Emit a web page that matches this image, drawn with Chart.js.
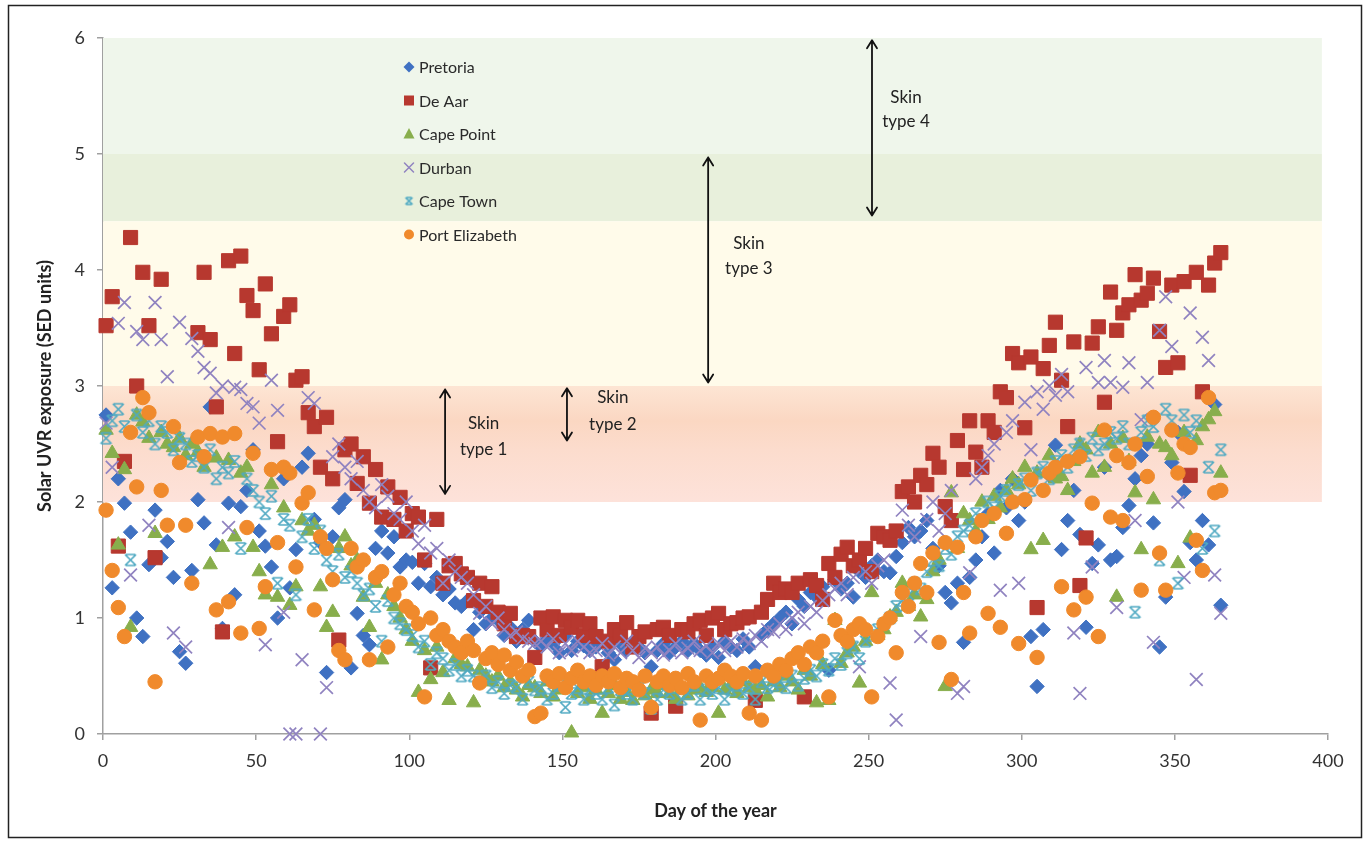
<!DOCTYPE html>
<html><head><meta charset="utf-8">
<script src="https://cdn.jsdelivr.net/npm/chart.js@4.4.1/dist/chart.umd.min.js"></script>
<style>html,body{margin:0;padding:0;background:#fff;}canvas{display:block}</style>
</head><body>
<canvas id="c" width="1370" height="843"></canvas>
<script>
const days = [1,3,5,7,9,11,13,15,17,19,21,23,25,27,29,31,33,35,37,39,41,43,45,47,49,51,53,55,57,59,61,63,65,67,69,71,73,75,77,79,81,83,85,87,89,91,93,95,97,99,101,103,105,107,109,111,113,115,117,119,121,123,125,127,129,131,133,135,137,139,141,143,145,147,149,151,153,155,157,159,161,163,165,167,169,171,173,175,177,179,181,183,185,187,189,191,193,195,197,199,201,203,205,207,209,211,213,215,217,219,221,223,225,227,229,231,233,235,237,239,241,243,245,247,249,251,253,255,257,259,261,263,265,267,269,271,273,275,277,279,281,283,285,287,289,291,293,295,297,299,301,303,305,307,309,311,313,315,317,319,321,323,325,327,329,331,333,335,337,339,341,343,345,347,349,351,353,355,357,359,361,363,365];

const pretoria = [
2.75,1.26,2.2,1.99,1.74,1.0,0.84,1.46,1.93,1.52,
1.66,1.35,0.71,0.61,1.41,2.02,1.82,2.82,1.63,0.91,
1.99,1.2,1.96,2.1,2.45,1.75,1.62,1.44,1.0,2.2,
1.26,1.59,2.3,2.42,1.85,1.65,0.53,1.7,1.95,2.02,
0.57,1.04,0.85,0.77,1.6,1.75,1.56,1.7,1.44,1.5,
1.48,1.3,1.47,1.27,1.35,1.2,1.25,1.13,1.1,1.15,
0.9,1.05,0.95,1.0,0.98,0.85,0.92,0.8,0.9,0.98,
0.8,0.75,0.82,0.78,0.7,0.85,0.72,0.8,0.76,0.72,
0.75,0.8,0.7,0.64,0.78,0.72,0.8,0.75,0.7,0.58,
0.72,0.78,0.7,0.75,0.8,0.72,0.78,0.72,0.68,0.75,
0.66,0.8,0.75,0.72,0.82,0.75,0.58,0.85,0.9,0.95,
1.0,1.05,0.95,1.16,1.1,1.22,1.18,1.27,0.55,1.33,
1.25,1.3,1.18,1.4,1.35,1.45,1.5,1.4,1.39,1.53,
1.65,1.78,1.7,1.75,1.84,1.6,1.45,1.22,1.13,1.3,
0.79,1.35,1.5,1.7,1.9,1.56,2.1,1.95,2.2,1.84,
2.0,0.84,0.41,0.9,2.23,2.49,1.59,1.84,2.1,1.72,
0.92,1.47,1.63,2.3,1.5,1.53,1.78,1.97,2.2,2.4,
2.5,1.82,0.75,1.18,2.34,2.6,2.09,1.65,1.5,1.84,
1.63,2.84,1.11];

const deAar = [
3.52,3.77,1.62,2.35,4.28,3.0,3.98,3.52,1.52,3.92,
null,null,null,null,null,3.46,3.98,3.4,2.82,0.88,
4.08,3.28,4.12,3.78,3.65,3.14,3.88,3.45,2.52,3.6,
3.7,3.05,3.08,2.77,2.65,2.3,2.73,2.2,0.81,2.45,
2.5,2.16,2.39,1.99,2.28,1.87,2.13,1.85,2.04,1.75,
1.9,1.87,1.5,0.57,1.85,1.3,1.45,1.47,1.38,1.35,
1.15,1.3,1.1,1.27,1.05,0.95,1.04,0.84,0.85,0.84,
0.66,1.0,0.9,1.01,0.85,0.98,0.92,0.98,0.85,0.95,
0.84,0.58,0.8,0.9,0.85,0.96,0.75,0.84,0.88,0.18,
0.9,0.92,0.85,0.24,0.9,0.88,0.95,0.98,0.85,1.0,
1.04,0.9,0.95,0.96,1.0,1.01,0.29,1.05,1.16,1.3,
1.22,1.25,1.22,1.3,0.32,1.33,1.28,1.16,1.47,1.35,
1.55,1.61,1.45,1.5,1.6,1.4,1.73,1.7,1.67,1.75,
2.09,2.13,2.0,2.23,2.15,2.42,2.3,1.96,1.84,2.53,
2.28,2.7,2.43,2.3,2.7,2.6,2.95,2.9,3.28,3.2,
2.64,3.25,1.09,3.15,3.35,3.55,3.05,2.65,3.38,1.28,
1.69,3.37,3.51,2.86,3.81,3.48,3.63,3.7,3.96,3.74,
3.8,3.93,3.47,3.16,3.87,3.2,3.9,2.23,3.98,2.95,
3.87,4.06,4.15];

const capePoint = [
2.62,2.42,1.63,2.28,0.92,2.75,2.69,2.55,1.73,2.6,
2.5,2.47,2.55,2.4,2.5,2.43,2.3,1.46,2.38,1.61,
2.36,1.7,2.25,2.3,1.61,1.4,1.2,2.15,1.18,1.95,
1.11,1.27,1.84,1.75,1.8,1.27,0.92,1.05,1.6,1.7,
1.45,1.5,1.18,0.92,1.3,0.64,1.2,1.1,1.0,0.9,
0.8,0.36,0.72,0.47,0.75,0.53,0.29,0.65,0.6,0.58,
0.27,0.55,0.5,0.45,0.5,0.4,0.45,0.38,0.32,0.42,
0.4,0.35,0.45,0.32,0.38,0.42,0.01,0.35,0.4,0.3,
0.38,0.18,0.35,0.42,0.3,0.36,0.29,0.4,0.33,0.38,
0.35,0.42,0.35,0.3,0.4,0.33,0.38,0.4,0.36,0.4,
0.18,0.38,0.42,0.35,0.45,0.4,0.38,0.42,0.32,0.45,
0.4,0.5,0.45,0.38,0.55,0.5,0.27,0.6,0.29,0.98,
0.61,0.7,0.75,0.44,0.8,1.22,0.85,0.9,1.01,1.05,
1.3,1.1,1.2,1.01,1.16,1.4,1.5,0.41,2.08,1.6,
1.9,1.84,1.75,2.0,1.85,2.05,1.95,2.1,2.2,2.15,
2.3,1.59,2.25,1.67,2.4,2.2,2.22,2.1,2.35,2.5,
2.45,2.25,2.6,2.3,2.5,1.18,2.55,2.35,2.08,1.59,
2.56,2.02,2.5,2.47,2.4,1.47,2.6,1.69,2.53,2.65,
2.71,2.78,2.25];

const durban = [
2.68,2.3,3.54,3.72,1.37,3.47,3.4,1.8,3.72,3.4,
3.08,0.87,3.55,0.75,3.41,3.3,3.16,3.11,2.94,3.0,
1.78,2.99,2.97,2.85,2.82,2.68,0.77,3.05,2.79,1.05,
0,0,0.64,2.9,2.85,0,0.4,2.39,2.5,2.3,
2.2,2.35,2.1,2.0,1.95,2.15,2.05,1.9,1.85,2.0,
1.75,1.64,1.8,1.56,1.6,1.3,1.5,1.4,1.35,1.3,
1.2,1.04,1.1,0.95,1.0,0.9,0.85,0.88,0.82,0.8,
0.78,0.8,0.75,0.82,0.7,0.78,0.72,0.8,0.75,0.7,
0.72,0.78,0.68,0.75,0.7,0.8,0.72,0.66,0.74,0.7,
0.75,0.68,0.72,0.78,0.7,0.74,0.8,0.72,0.76,0.7,
0.78,0.72,0.8,0.75,0.82,0.78,0.85,0.8,0.9,0.88,
0.95,0.9,1.0,1.05,0.95,1.1,1.05,1.15,1.2,1.25,
1.3,1.2,1.35,0.58,1.4,1.3,1.45,1.5,0.44,0.12,
1.93,1.8,1.7,0.84,1.85,2.0,1.75,1.9,2.1,0.35,
0.41,1.39,2.2,2.3,2.4,2.5,1.24,2.6,2.7,1.3,
2.86,2.45,2.95,2.8,3.0,2.92,3.1,2.95,0.87,0.35,
3.16,1.44,3.03,3.22,3.03,1.09,2.99,3.2,1.84,2.71,
3.03,0.79,3.48,3.77,3.34,2.0,1.35,3.63,0.47,3.42,
3.22,1.37,1.04];

const capeTown = [
2.55,2.7,2.8,2.65,1.5,2.75,2.6,2.7,2.5,2.65,
2.6,2.45,2.55,2.5,2.35,2.4,2.3,2.45,2.2,2.3,
2.25,2.35,1.6,2.2,2.1,2.0,1.9,2.05,1.3,1.85,
1.8,1.2,1.7,1.85,1.6,1.75,1.5,1.4,1.55,1.35,
1.4,1.3,1.2,1.25,1.1,0.8,1.15,1.0,0.95,0.9,
0.85,0.75,0.8,0.6,0.7,0.65,0.55,0.6,0.5,0.55,
0.5,0.45,0.5,0.4,0.45,0.35,0.42,0.4,0.3,0.45,
0.38,0.4,0.3,0.35,0.42,0.23,0.35,0.4,0.3,0.38,
0.35,0.3,0.4,0.25,0.38,0.35,0.3,0.4,0.35,0.22,
0.3,0.38,0.35,0.4,0.3,0.35,0.42,0.3,0.38,0.35,
0.4,0.3,0.38,0.42,0.35,0.4,0.3,0.45,0.4,0.42,
0.45,0.4,0.5,0.42,0.48,0.55,0.5,0.6,0.55,0.65,
0.6,0.7,0.75,0.65,0.8,0.85,0.9,0.95,1.0,1.1,
1.15,1.2,1.3,1.25,1.4,1.5,1.45,1.6,1.55,1.7,
1.75,1.8,1.9,1.85,2.0,1.95,2.05,2.1,2.0,2.15,
2.2,2.1,2.25,2.3,2.2,2.35,2.4,2.3,2.45,2.5,
2.4,2.55,2.45,2.5,2.6,2.55,2.65,2.5,1.05,2.6,
2.7,2.65,1.5,2.8,2.7,1.3,2.75,2.6,2.7,1.6,
2.3,1.75,2.45];

const portElizabeth = [
1.93,1.41,1.09,0.84,2.6,2.13,2.9,2.77,0.45,2.1,
1.8,2.65,2.34,1.8,1.3,2.56,2.39,2.59,1.07,2.56,
1.14,2.59,0.87,1.78,2.42,0.91,1.27,2.28,1.65,2.3,
2.25,1.44,1.99,2.08,1.07,1.7,1.6,1.33,0.72,0.64,
1.6,1.44,1.5,0.64,1.35,1.4,0.75,1.2,1.3,1.1,
1.05,0.95,0.32,1.0,0.85,0.9,0.8,0.75,0.7,0.8,
0.72,0.44,0.65,0.7,0.6,0.68,0.55,0.62,0.5,0.55,
0.15,0.18,0.5,0.45,0.52,0.4,0.48,0.55,0.45,0.5,
0.42,0.5,0.45,0.52,0.4,0.48,0.45,0.38,0.5,0.23,
0.45,0.5,0.42,0.48,0.4,0.52,0.45,0.12,0.5,0.45,
0.48,0.55,0.5,0.45,0.52,0.18,0.5,0.12,0.55,0.5,
0.6,0.55,0.65,0.7,0.6,0.75,0.7,0.8,0.32,0.98,
0.85,0.8,0.9,0.95,0.9,0.32,0.84,0.95,1.0,0.7,
1.22,1.1,1.3,1.47,1.22,1.56,0.79,1.65,0.47,1.61,
1.22,0.87,1.7,1.84,1.04,1.9,0.92,1.73,2.0,0.78,
2.02,2.19,0.66,2.1,2.25,2.3,1.27,2.35,1.07,2.39,
1.18,1.99,0.84,2.62,1.87,2.4,1.84,2.34,2.5,1.24,
2.22,2.73,1.56,1.24,2.62,2.25,2.5,2.47,1.67,1.41,
2.9,2.08,2.1];

const seriesNames = ['Pretoria','De Aar','Cape Point','Durban','Cape Town','Port Elizabeth'];
const seriesValues = [pretoria, deAar, capePoint, durban, capeTown, portElizabeth];
const xTickValues = [0,50,100,150,200,250,300,350,400];
const yTickValues = [0,1,2,3,4,5,6];
const bandEdges = [6,5,4.42,3,2];
const bandRightDay = 398;
const skinNotes = [
  {lines:['Skin','type 1'], day:111.7, top:2.97, bottom:2.07, textDay:124.3, textVals:[2.68,2.45]},
  {lines:['Skin','type 2'], day:151.5, top:2.98, bottom:2.53, textDay:166.5, textVals:[2.9,2.67]},
  {lines:['Skin','type 3'], day:197.6, top:4.97, bottom:3.03, textDay:210.9, textVals:[4.23,4.01]},
  {lines:['Skin','type 4'], day:251.1, top:5.98, bottom:4.47, textDay:262.2, textVals:[5.49,5.28]}
];

const colors = ['#3f71c2','#b7382f','#88ae4c','#9083c0','#4fa9c2','#f08a2c'];

function makeStar(color, s){
  const c=document.createElement('canvas'); c.width=s; c.height=s;
  const g=c.getContext('2d'); g.strokeStyle=color; g.lineWidth=1.7;
  const a=2, b=s-2;
  g.beginPath();
  g.moveTo(a,a); g.lineTo(b,b); g.moveTo(b,a); g.lineTo(a,b);
  g.moveTo(a+1,a); g.lineTo(b-1,a); g.moveTo(a+1,b); g.lineTo(b-1,b);
  g.stroke(); return c;
}
const starBig = makeStar(colors[4], 15);
const starSmall = makeStar(colors[4], 11);

const styles = [
  {pointStyle:'rectRot', radius:7.2},
  {pointStyle:'rect', radius:10},
  {pointStyle:'triangle', radius:8.3},
  {pointStyle:'crossRot', radius:9},
  {pointStyle:starBig, radius:7},
  {pointStyle:'circle', radius:7.2}
];

const datasets = seriesNames.map((name,i)=>({
  label:name,
  data: days.map((d,k)=>({x:d, y:seriesValues[i][k]})).filter(p=>p.y!==null && p.y!==undefined),
  pointStyle: styles[i].pointStyle,
  pointRadius: styles[i].radius,
  backgroundColor: colors[i],
  borderColor: colors[i],
  pointBorderWidth: (i===3)?1.7:1,
  showLine:false,
  clip:false,
  order: 5-i
}));

const bandsPlugin = {
  id:'bands',
  beforeDatasetsDraw(chart){
    const {ctx, scales:{x,y}} = chart;
    const x0=x.getPixelForValue(0), x1=x.getPixelForValue(bandRightDay);
    const fills = ['#eff6eb','#e8f0dc','#fffbea', null];
    ctx.save();
    for(let i=0;i<bandEdges.length-1;i++){
      const yt=y.getPixelForValue(bandEdges[i]), yb=y.getPixelForValue(bandEdges[i+1]);
      if(fills[i]){ ctx.fillStyle=fills[i]; }
      else {
        const g=ctx.createLinearGradient(0,yt,0,yb);
        g.addColorStop(0,'#fde5d4'); g.addColorStop(0.3,'#fbd7c2'); g.addColorStop(0.55,'#fcdccd'); g.addColorStop(1,'#fde2da');
        ctx.fillStyle=g;
      }
      ctx.fillRect(x0,yt,x1-x0,yb-yt);
    }
    ctx.restore();
  }
};

function drawArrow(ctx, x, yTop, yBot){
  ctx.beginPath();
  ctx.moveTo(x,yTop); ctx.lineTo(x,yBot);
  ctx.moveTo(x-5,yTop+8); ctx.lineTo(x,yTop); ctx.lineTo(x+5,yTop+8);
  ctx.moveTo(x-5,yBot-8); ctx.lineTo(x,yBot); ctx.lineTo(x+5,yBot-8);
  ctx.stroke();
}

function drawMarker(ctx, i, x, y){
  const c=colors[i];
  ctx.save(); ctx.fillStyle=c; ctx.strokeStyle=c; ctx.lineWidth=1.5;
  ctx.beginPath();
  if(i===0){ const r=5.5; ctx.moveTo(x,y-r); ctx.lineTo(x+r,y); ctx.lineTo(x,y+r); ctx.lineTo(x-r,y); ctx.closePath(); ctx.fill(); }
  else if(i===1){ const s=5; ctx.rect(x-s,y-s,2*s,2*s); ctx.fill(); }
  else if(i===2){ ctx.moveTo(x,y-6); ctx.lineTo(x+5.5,y+4.5); ctx.lineTo(x-5.5,y+4.5); ctx.closePath(); ctx.fill(); }
  else if(i===3){ const r=4.5; ctx.moveTo(x-r,y-r); ctx.lineTo(x+r,y+r); ctx.moveTo(x+r,y-r); ctx.lineTo(x-r,y+r); ctx.stroke(); }
  else if(i===4){ ctx.drawImage(starSmall, x-5.5, y-5.5); }
  else { ctx.arc(x,y,5,0,Math.PI*2); ctx.fill(); }
  ctx.restore();
}

const overlayPlugin = {
  id:'overlay',
  afterDatasetsDraw(chart){
    const {ctx, scales:{x,y}, chartArea} = chart;
    ctx.save();
    ctx.strokeStyle='#111'; ctx.lineWidth=1.8; ctx.lineCap='round'; ctx.lineJoin='round';
    ctx.fillStyle='#222'; ctx.font='17px Lato'; ctx.textAlign='center'; ctx.textBaseline='middle';
    skinNotes.forEach(n=>{
      const px=x.getPixelForValue(n.day);
      drawArrow(ctx, px, y.getPixelForValue(n.top), y.getPixelForValue(n.bottom));
      const tx=x.getPixelForValue(n.textDay);
      n.lines.forEach((t,k)=>ctx.fillText(t, tx, y.getPixelForValue(n.textVals[k])));
    });
    // legend
    ctx.font='16px Lato'; ctx.textAlign='left';
    const lx=chartArea.left+306, ly=chartArea.top+29, dy=33.5;
    seriesNames.forEach((nm,i)=>{
      const yy=ly+i*dy;
      drawMarker(ctx,i,lx,yy);
      ctx.fillStyle='#2a2a2a';
      ctx.fillText(nm, lx+10, yy+1);
    });
    ctx.restore();
  },
  afterDraw(chart){
    const ctx=chart.ctx;
    ctx.save(); ctx.strokeStyle='#222'; ctx.lineWidth=1.5;
    ctx.strokeRect(8.5,5.5,1353,832);
    ctx.restore();
  }
};

new Chart(document.getElementById('c'), {
  type:'scatter',
  data:{datasets},
  options:{
    responsive:false,
    animation:false,
    devicePixelRatio:1,
    layout:{padding:{left:0,right:42,top:38,bottom:0}},
    plugins:{legend:{display:false}, tooltip:{enabled:false}},
    scales:{
      x:{
        type:'linear', min:0, max:400,
        afterFit(s){ s.height=109; },
        afterBuildTicks(s){ s.ticks = xTickValues.map(v=>({value:v})); },
        ticks:{font:{family:'Lato',size:18}, color:'#333', padding:10, maxRotation:0},
        grid:{display:true, drawOnChartArea:false, drawTicks:true, tickLength:6, color:'#a0a0a0', lineWidth:1.5},
        border:{display:true, color:'#a0a0a0', width:1.5},
        title:{display:true, text:'Day of the year', font:{family:'Lato',size:18,weight:'bold'}, color:'#222', padding:{top:0,bottom:21}}
      },
      y:{
        type:'linear', min:0, max:6,
        afterFit(s){ s.width=103; },
        afterBuildTicks(s){ s.ticks = yTickValues.map(v=>({value:v})); },
        ticks:{font:{family:'Lato',size:18}, color:'#333', padding:12},
        grid:{display:true, drawOnChartArea:false, drawTicks:true, tickLength:6, color:'#a0a0a0', lineWidth:1.5},
        border:{display:true, color:'#a0a0a0', width:1.5},
        title:{display:true, text:'Solar UVR exposure (SED units)', font:{family:'Lato',size:18,weight:'bold'}, color:'#222', padding:{top:34,bottom:0}}
      }
    }
  },
  plugins:[bandsPlugin, overlayPlugin]
});
</script>
</body></html>
